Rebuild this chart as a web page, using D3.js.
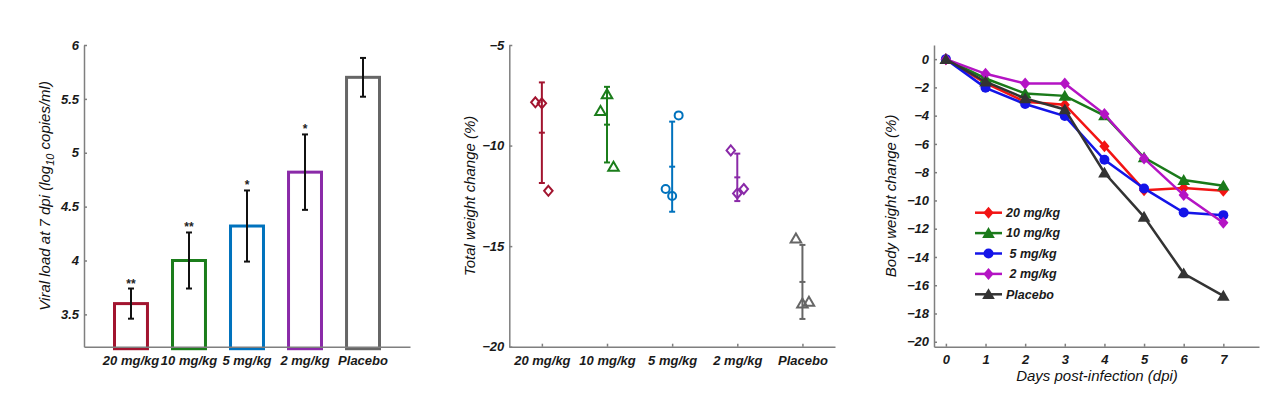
<!DOCTYPE html>
<html lang="en">
<head>
  <meta charset="UTF-8" />
  <title>Viral load and weight change</title>
  <script src="https://d3js.org/d3.v7.min.js"></script>
  <style>
    html, body { margin: 0; padding: 0; background: #fff; }
    svg { display: block; font-family: Arial, "Liberation Sans", sans-serif; }
    .tick text { font-size: 13px; font-weight: bold; font-style: italic; fill: #1a1a1a; }
    .domain, .tick line { stroke: #7f7f7f; stroke-width: 1.5px; }
    .axis-title { font-size: 15px; font-style: italic; fill: #111; }
  </style>
</head>
<body>
<svg width="1269" height="395"></svg>
<script>
  // ---------------------------------------------------------
  // Data
  // ---------------------------------------------------------
  const doseLabels = ["20 mg/kg", "10 mg/kg", "5 mg/kg", "2 mg/kg", "Placebo"];
  const groupColors = ["#a2142f", "#1b7d1b", "#0072bd", "#8a2aa8", "#666666"];

  // panel 1: viral load at 7 dpi
  const viralMean = [3.60, 4.00, 4.32, 4.82, 5.70];
  const viralErr = [0.14, 0.26, 0.33, 0.35, 0.18];
  const viralStars = ["**", "**", "*", "*", ""];
  const viralTicks = [3.5, 4, 4.5, 5, 5.5, 6];

  // panel 2: total weight change, individual animals
  const wt20 = [-7.85, -7.90, -12.25];
  const wt10 = [-8.28, -7.45, -11.05];
  const wt5 = [-12.16, -12.51, -8.50];
  const wt2 = [-10.24, -12.38, -12.16];
  const wtPlacebo = [-14.62, -17.85, -17.77];
  const wtMean = [-9.36, -8.96, -11.05, -11.58, -16.78];
  const wtSD = [2.50, 1.88, 2.24, 1.18, 1.84];
  const wtShapes = ["diamond", "triangle", "circle", "diamond", "triangle"];
  const wtTicks = [-5, -10, -15, -20];

  // panel 3: body weight change over time
  const days = [0, 1, 2, 3, 4, 5, 6, 7];
  const bw20 = [0, -1.70, -3.02, -3.22, -6.16, -9.27, -9.12, -9.32];
  const bw10 = [0, -1.37, -2.43, -2.60, -3.99, -6.96, -8.56, -8.96];
  const bw5 = [0, -2.03, -3.18, -4.03, -7.12, -9.15, -10.85, -11.04];
  const bw2 = [0, -1.04, -1.72, -1.72, -3.89, -7.03, -9.62, -11.58];
  const bwPlacebo = [0, -1.60, -2.78, -3.56, -8.04, -11.16, -15.17, -16.75];
  const bwLegend = ["20 mg/kg", "10 mg/kg", " 5 mg/kg", " 2 mg/kg", "Placebo"];
  const bwColors = ["#f21414", "#1a7a1a", "#1414e8", "#b414c4", "#333333"];
  const bwShapes = ["diamond", "triangle", "circle", "diamond", "triangle"];
  const bwTicks = [0, -2, -4, -6, -8, -10, -12, -14, -16, -18, -20];

  const svg = d3.select("svg");

  // ---------------------------------------------------------
  // Helpers
  // ---------------------------------------------------------
  function markerPath(shape, s) {
    if (shape === "diamond") {
      const w = s * 0.85, h = s;
      return `M0,${-h}L${w},0L0,${h}L${-w},0Z`;
    }
    if (shape === "triangle") {
      const w = s * 1.05;
      return `M0,${-s}L${w},${s * 0.8}L${-w},${s * 0.8}Z`;
    }
    return d3.arc()({innerRadius: 0, outerRadius: s, startAngle: 0, endAngle: 2 * Math.PI});
  }

  function yAxis(g, y, ticks, fmt) {
    g.call(d3.axisLeft(y).tickValues(ticks).tickSizeInner(-3).tickSizeOuter(0)
      .tickPadding(5).tickFormat(fmt || d3.format("")));
  }

  function yTitle(x, y0, y1, text) {
    return svg.append("text").attr("class", "axis-title")
      .attr("transform", `translate(${x},${(y0 + y1) / 2}) rotate(-90)`)
      .attr("text-anchor", "middle").text(text);
  }

  const yTop = 45, yBottom = 346.7;

  // ---------------------------------------------------------
  // Panel 1: bar chart
  // ---------------------------------------------------------
  const x1 = d3.scaleBand().domain(doseLabels).range([84, 410])
    .paddingInner(0.38).paddingOuter(0.5);
  const y1 = d3.scaleLinear().domain([3.2, 6]).range([yBottom, yTop]);

  const p1 = svg.append("g");
  p1.selectAll("rect.bar").data(doseLabels).join("rect")
    .attr("x", d => x1(d) + 1.5)
    .attr("y", (d, i) => y1(viralMean[i]))
    .attr("width", x1.bandwidth() - 3)
    .attr("height", (d, i) => y1(3.2) - y1(viralMean[i]) + 2)
    .attr("fill", "#fff")
    .attr("stroke", (d, i) => groupColors[i])
    .attr("stroke-width", 3);

  doseLabels.forEach((d, i) => {
    const cx = x1(d) + x1.bandwidth() / 2;
    const hi = y1(viralMean[i] + viralErr[i]), lo = y1(viralMean[i] - viralErr[i]);
    const g = p1.append("g").attr("stroke", "#111").attr("stroke-width", 2);
    g.append("line").attr("x1", cx).attr("x2", cx).attr("y1", hi).attr("y2", lo);
    g.append("line").attr("x1", cx - 3).attr("x2", cx + 3).attr("y1", hi).attr("y2", hi);
    g.append("line").attr("x1", cx - 3).attr("x2", cx + 3).attr("y1", lo).attr("y2", lo);
    p1.append("text")
      .attr("x", cx).attr("y", hi - 1)
      .attr("text-anchor", "middle")
      .attr("font-size", 12).attr("font-weight", "bold").attr("fill", "#222")
      .text(viralStars[i]);
  });

  p1.append("g").attr("transform", "translate(84,0)")
    .call(g => yAxis(g, y1, viralTicks));
  p1.append("g").attr("transform", `translate(0,${yBottom})`)
    .call(d3.axisBottom(x1).tickSize(0).tickPadding(9));

  const t1 = yTitle(50, yTop, yBottom, "");
  t1.append("tspan").text("Viral load at 7 dpi (log");
  t1.append("tspan").attr("font-size", 11).attr("dy", 4).text("10");
  t1.append("tspan").attr("dy", -4).text(" copies/ml)");

  // ---------------------------------------------------------
  // Panel 2: individual weight change with mean ± SD
  // ---------------------------------------------------------
  const wtGroups = [wt20, wt10, wt5, wt2, wtPlacebo];
  const jitter = [-6.5, 0, 6.5];
  const x2 = d3.scalePoint().domain(doseLabels).range([509.3, 835]).padding(0.5);
  const y2 = d3.scaleLinear().domain([-20, -5]).range([yBottom, yTop]);

  const p2 = svg.append("g");
  p2.append("g").attr("transform", "translate(509.3,0)")
    .call(g => yAxis(g, y2, wtTicks));
  p2.append("g").attr("transform", `translate(0,${yBottom})`)
    .call(d3.axisBottom(x2).tickSizeInner(-3).tickSizeOuter(0).tickPadding(9));

  doseLabels.forEach((d, i) => {
    const cx = x2(d);
    const col = groupColors[i];
    const g = p2.append("g").attr("stroke", col).attr("stroke-width", 2).attr("fill", "none");
    const hi = y2(wtMean[i] + wtSD[i]), lo = y2(wtMean[i] - wtSD[i]), m = y2(wtMean[i]);
    g.append("line").attr("x1", cx).attr("x2", cx).attr("y1", hi).attr("y2", lo);
    [hi, m, lo].forEach(yy => g.append("line")
      .attr("x1", cx - 3).attr("x2", cx + 3).attr("y1", yy).attr("y2", yy));
    wtGroups[i].forEach((v, j) => {
      g.append("path")
        .attr("transform", `translate(${cx + jitter[j]},${y2(v)})`)
        .attr("d", markerPath(wtShapes[i], wtShapes[i] === "circle" ? 4 : 5));
    });
  });

  yTitle(475, yTop, yBottom, "Total weight change (%)");

  // ---------------------------------------------------------
  // Panel 3: body weight over time
  // ---------------------------------------------------------
  const bwSeries = [bw20, bw10, bw5, bw2, bwPlacebo];
  const x3 = d3.scaleLinear().domain([-0.3, 7.9]).range([934, 1259]);
  const y3 = d3.scaleLinear().domain([-20.35, 1]).range([yBottom, yTop]);

  const p3 = svg.append("g");
  p3.append("g").attr("transform", "translate(934,0)")
    .call(g => yAxis(g, y3, bwTicks));
  p3.append("g").attr("transform", `translate(0,${yBottom})`)
    .call(d3.axisBottom(x3).tickValues(days).tickSizeInner(-3).tickSizeOuter(0)
      .tickPadding(8).tickFormat(d3.format("d")));

  const line = d3.line().x((v, k) => x3(days[k])).y(v => y3(v));
  bwSeries.forEach((s, i) => {
    const g = p3.append("g");
    g.append("path").attr("d", line(s)).attr("fill", "none")
      .attr("stroke", bwColors[i]).attr("stroke-width", 2.5);
    g.selectAll("path.mk").data(s).join("path").attr("class", "mk")
      .attr("transform", (v, k) => `translate(${x3(days[k])},${y3(v)})`)
      .attr("d", markerPath(bwShapes[i], bwShapes[i] === "circle" ? 5 : 6))
      .attr("fill", bwColors[i]);
  });

  // legend
  const leg = p3.append("g").attr("transform", "translate(975,212.7)");
  bwLegend.forEach((name, i) => {
    const r = leg.append("g").attr("transform", `translate(0,${i * 20.4})`);
    r.append("line").attr("x1", 0).attr("x2", 27).attr("stroke", bwColors[i]).attr("stroke-width", 2.5);
    r.append("path").attr("transform", "translate(13.5,0)")
      .attr("d", markerPath(bwShapes[i], bwShapes[i] === "circle" ? 5 : 6))
      .attr("fill", bwColors[i]);
    r.append("text").attr("x", 31).attr("dy", "0.35em")
      .attr("font-size", 12.5).attr("font-weight", "bold").attr("font-style", "italic")
      .attr("fill", "#1a1a1a").style("white-space", "pre").text(name);
  });

  yTitle(896, yTop, yBottom, "Body weight change (%)");
  svg.append("text").attr("class", "axis-title")
    .attr("x", 1097).attr("y", 381)
    .attr("text-anchor", "middle").text("Days post-infection (dpi)");
</script>
</body>
</html>
